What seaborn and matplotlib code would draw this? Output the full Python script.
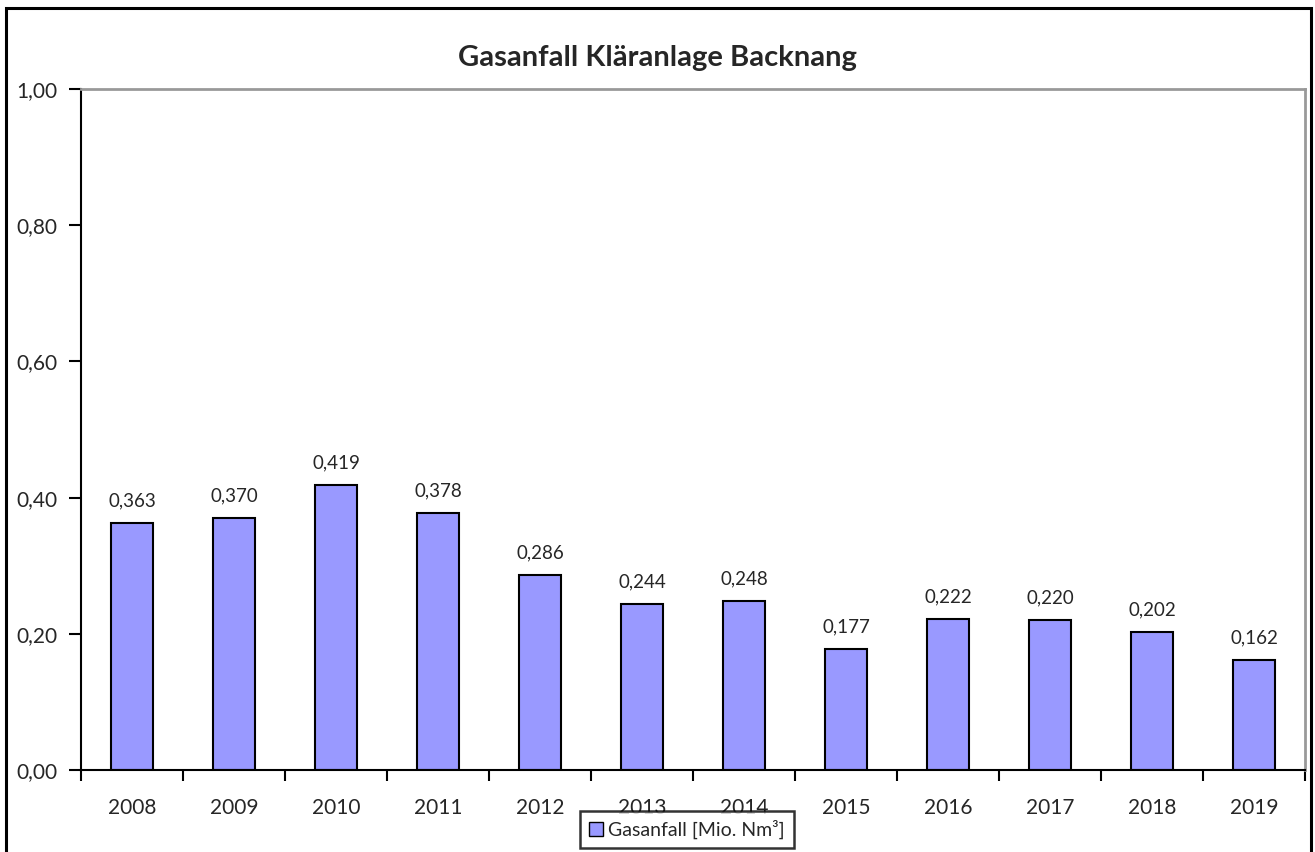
import matplotlib
matplotlib.use("Agg")
import matplotlib.pyplot as plt
import seaborn as sns
import pandas as pd
from matplotlib.patches import Rectangle, Patch
from matplotlib.ticker import FixedLocator

years = ["2008", "2009", "2010", "2011", "2012", "2013", "2014", "2015", "2016", "2017", "2018", "2019"]
gas = [0.363, 0.370, 0.419, 0.378, 0.286, 0.244, 0.248, 0.177, 0.222, 0.220, 0.202, 0.162]
title = "Gasanfall Kläranlage Backnang"
series_name = "Gasanfall [Mio. Nm³]"

sns.set_theme(style="white")
plt.rcParams["font.family"] = ["Lato", "DejaVu Sans"]

df = pd.DataFrame({"Jahr": years, "Gas": gas})

fig = plt.figure(figsize=(13.15, 8.52), dpi=100)
ax = fig.add_axes([81/1315, 1-770/852, (1305-81)/1315, (770-89)/852])

sns.barplot(data=df, x="Jahr", y="Gas", ax=ax, color="#9999FF", width=0.41,
            edgecolor="black", linewidth=1.5, saturation=1)

ax.set_xlim(-0.5, len(years) - 0.5)
ax.set_ylim(0, 1.0)
ax.set_yticks([0, 0.2, 0.4, 0.6, 0.8, 1.0])
ax.set_yticklabels(["0,00", "0,20", "0,40", "0,60", "0,80", "1,00"], fontsize=15)
ax.tick_params(axis="y", direction="out", length=9, width=1.5, color="black", left=True, pad=8)
ax.tick_params(axis="x", which="major", length=0, labelsize=15, pad=20)
ax.xaxis.set_minor_locator(FixedLocator([i - 0.5 for i in range(len(years) + 1)]))
ax.tick_params(axis="x", which="minor", direction="out", length=8, width=1.5, color="black", bottom=True)
ax.set_xlabel("")
ax.set_ylabel("")

for s in ["left", "bottom"]:
    ax.spines[s].set_color("black")
    ax.spines[s].set_linewidth(1.5)
for s in ["top", "right"]:
    ax.spines[s].set_color("#999999")
    ax.spines[s].set_linewidth(2)
ax.grid(False)

for i, v in enumerate(gas):
    ax.text(i, v + 0.02, f"{v:.3f}".replace(".", ","), ha="center", va="bottom", fontsize=13.5)

fig.text(0.5, 1 - 58/852, title, ha="center", va="center", fontsize=21, fontweight="bold")

leg = fig.legend(handles=[Patch(facecolor="#9999FF", edgecolor="black", label=series_name)],
                 loc="upper center", bbox_to_anchor=(687/1315, 1 - 811/852), frameon=True,
                 fontsize=14, handlelength=0.7, handleheight=0.7, handletextpad=0.3,
                 borderpad=0.45, fancybox=False, borderaxespad=0)
leg.get_frame().set_edgecolor("black")
leg.get_frame().set_linewidth(1.8)

fig.patches.append(Rectangle((6/1315, -0.05), (1311-6)/1315, 1.05 - 8/852, transform=fig.transFigure,
                             fill=False, edgecolor="black", linewidth=2.2))

fig.savefig("out.png", dpi=100)
